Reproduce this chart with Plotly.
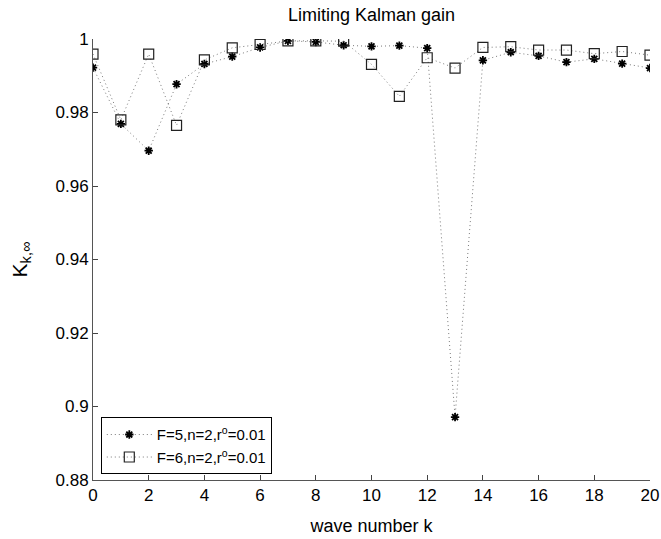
import plotly.graph_objects as go

k = list(range(21))
f5_gain = [0.9922, 0.9769, 0.9696, 0.9877, 0.9932, 0.9952, 0.9977, 0.9995, 0.9992, 0.9983,
           0.9980, 0.9982, 0.9975, 0.8971, 0.9942, 0.9964, 0.9954, 0.9937, 0.9946, 0.9933, 0.9921]
f6_gain = [0.9959, 0.9780, 0.9959, 0.9765, 0.9943, 0.9976, 0.9985, 0.9995, 0.9995, 0.9994,
           0.9931, 0.9844, 0.9949, 0.9921, 0.9977, 0.9979, 0.9970, 0.9970, 0.9960, 0.9966, 0.9956]
x_ticks = list(range(0, 21, 2))
y_ticks = [0.88, 0.9, 0.92, 0.94, 0.96, 0.98, 1]
y_tick_labels = ["0.88", "0.9", "0.92", "0.94", "0.96", "0.98", "1"]

FONT = "Liberation Sans, Arial, sans-serif"

fig = go.Figure()
fig.add_trace(go.Scatter(
    x=k, y=f5_gain, mode="lines+markers",
    name="F=5,n=2,r<sup>o</sup>=0.01",
    line=dict(color="#7a7a7a", width=1, dash="1px,3px"),
    marker=dict(symbol="asterisk-open", size=7, color="black",
                line=dict(color="black", width=1.8)),
))
fig.add_trace(go.Scatter(
    x=k, y=f6_gain, mode="lines+markers",
    name="F=6,n=2,r<sup>o</sup>=0.01",
    line=dict(color="#7a7a7a", width=1, dash="1px,3px"),
    marker=dict(symbol="square-open", size=10, color="#222",
                line=dict(color="#222", width=1.2)),
))

fig.update_layout(
    width=661, height=539,
    margin=dict(l=93, r=11, t=39, b=59, autoexpand=False),
    paper_bgcolor="white", plot_bgcolor="white",
    font=dict(family=FONT, size=17, color="black"),
    title=dict(text="Limiting Kalman gain", x=0.5, xanchor="center",
               xref="paper", y=1 - 15 / 539, yanchor="middle",
               font=dict(size=18, family=FONT, color="black")),
    showlegend=True,
    hovermode=False,
    legend=dict(x=0.014, y=0.013, xanchor="left", yanchor="bottom",
                bgcolor="white", bordercolor="black", borderwidth=1,
                font=dict(size=15, family=FONT), itemwidth=45,
                tracegroupgap=0),
    xaxis=dict(range=[0, 20], tickvals=x_ticks, ticks="inside", ticklen=5,
               tickcolor="#444", showline=True, linecolor="#555", linewidth=1,
               showgrid=False, zeroline=False, mirror=False, automargin=False,
               tickfont=dict(size=17, family=FONT),
               title=dict(text="wave number k", standoff=14,
                          font=dict(size=18, family=FONT))),
    yaxis=dict(range=[0.88, 1.0], tickvals=y_ticks, ticktext=y_tick_labels,
               ticks="inside", ticklen=5, tickcolor="#444",
               showline=True, linecolor="#555", linewidth=1,
               showgrid=False, zeroline=False, mirror=False, automargin=False,
               tickfont=dict(size=17, family=FONT),
               title=dict(text="K<sub>k,∞</sub>", standoff=22,
                          font=dict(size=21, family=FONT))),
)

fig.write_html("out.html",
               config={"displayModeBar": False},
               post_script="document.body.style.margin='0';document.body.style.padding='0';")
